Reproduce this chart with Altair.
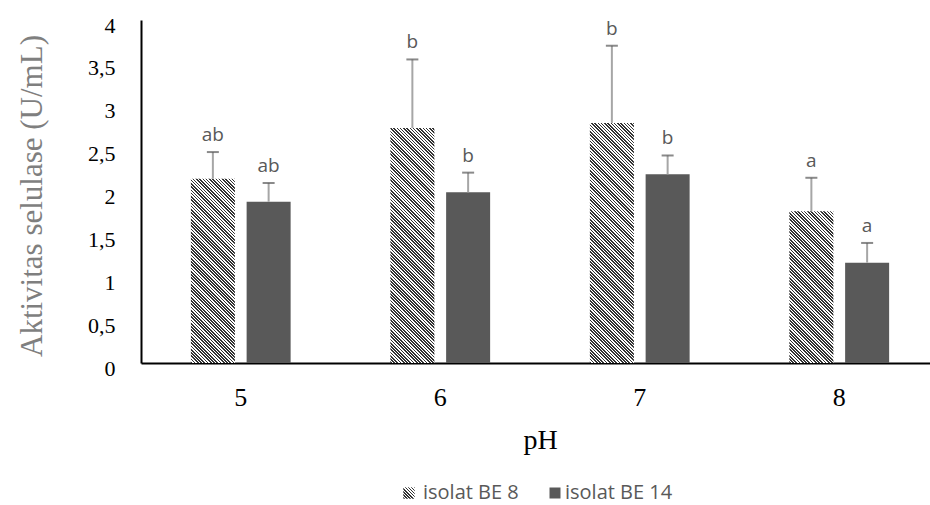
import math
import altair as alt
import pandas as pd

# pH levels and the two isolates
ph_levels = ["5", "6", "7", "8"]
isolates = ["isolat BE 8", "isolat BE 14"]

# cellulase activity (U/mL): means, standard deviations, significance letters
be8_mean = [2.15, 2.74, 2.80, 1.77]
be8_sd = [0.31, 0.80, 0.90, 0.39]
be8_letter = ["ab", "b", "b", "a"]

be14_mean = [1.88, 1.99, 2.20, 1.17]
be14_sd = [0.22, 0.23, 0.22, 0.23]
be14_letter = ["ab", "b", "b", "a"]

rows = []
for p, m, s, l in zip(ph_levels, be8_mean, be8_sd, be8_letter):
    rows.append({"pH": p, "isolat": isolates[0], "mean": m, "sd": s, "top": m + s, "letter": l})
for p, m, s, l in zip(ph_levels, be14_mean, be14_sd, be14_letter):
    rows.append({"pH": p, "isolat": isolates[1], "mean": m, "sd": s, "top": m + s, "letter": l})
df = pd.DataFrame(rows)

PLOT_W, PLOT_H = 789, 343
Y_MAX = 4
BAR_W = 44
SERIF = "Liberation Serif"
SANS = "Open Sans"
SOLID = "#595959"


def hatch(w, h, period=2.3, dark="#333333", light="#ffffff"):
    """Diagonal '\\' stripes as a linear gradient in bounding-box units."""
    alpha = (w + h) / (w * w + h * h)
    span = (w + h) / math.sqrt(2)
    step = period / span
    n = int(math.ceil(span / period))
    stops = []
    for i in range(n):
        t0 = round(min(i * step, 1), 5)
        tm = round(min(i * step + step / 2, 1), 5)
        t1 = round(min(i * step + step, 1), 5)
        stops += [
            alt.GradientStop(offset=t0, color=dark),
            alt.GradientStop(offset=tm, color=dark),
            alt.GradientStop(offset=tm, color=light),
            alt.GradientStop(offset=t1, color=light),
        ]
    return alt.LinearGradient(gradient="linear", stops=stops,
                              x1=0, y1=1, x2=alpha * w, y2=1 - alpha * h)


x_enc = alt.X(
    "pH:N",
    sort=ph_levels,
    scale=alt.Scale(domain=ph_levels, range=[0, 798], paddingInner=0.5, paddingOuter=0.25),
    title="pH",
    axis=alt.Axis(
        labelAngle=0, ticks=False, domainColor="black", domainWidth=2,
        labelFont=SERIF, labelFontSize=26, labelColor="black",
        labelBaseline="alphabetic", labelPadding=42,
        titleFont=SERIF, titleFontSize=28, titleFontWeight="normal", titleColor="black",
        titleBaseline="alphabetic", titleY=85,
    ),
)
xo_enc = alt.XOffset(
    "isolat:N",
    scale=alt.Scale(domain=isolates, paddingInner=0.2108, paddingOuter=0),
)


def y_enc(field):
    return alt.Y(
        f"{field}:Q",
        scale=alt.Scale(domain=[0, Y_MAX], nice=False),
        title="Aktivitas selulase (U/mL)",
        axis=alt.Axis(
            values=[i * 0.5 for i in range(9)],
            labelExpr="replace(format(datum.value, '.1~f'), '.', ',')",
            grid=False, ticks=False, domainColor="black", domainWidth=2,
            labelFont=SERIF, labelFontSize=22, labelColor="black",
            labelPadding=26, labelOffset=5,
            titleFont=SERIF, titleFontSize=31, titleFontWeight="normal", titleColor="#7f7f7f",
            titleAngle=270, titleAlign="center", titleBaseline="middle",
            titleX=-109, titleY=PLOT_H / 2 + 4,
        ),
    )


base = alt.Chart(df)

solid_bars = base.transform_filter(alt.datum.isolat == isolates[1]).mark_bar(color=SOLID).encode(
    x=x_enc, xOffset=xo_enc, y=y_enc("mean")
)

hatched = []
for p, m in zip(ph_levels, be8_mean):
    h = m / Y_MAX * PLOT_H
    hatched.append(
        base.transform_filter((alt.datum.isolat == isolates[0]) & (alt.datum.pH == p))
        .mark_bar(color=hatch(BAR_W, h))
        .encode(x=x_enc, xOffset=xo_enc, y=y_enc("mean"))
    )

err_line = base.mark_rule(color="#a6a6a6", strokeWidth=2).encode(
    x=x_enc, xOffset=xo_enc, y=y_enc("mean"), y2="top:Q"
)
err_cap = base.mark_tick(orient="horizontal", color="#595959", size=12, thickness=2).encode(
    x=x_enc, xOffset=xo_enc, y=y_enc("top")
)
letters = base.mark_text(
    dy=-7, baseline="bottom", font=SANS, fontSize=19, color="#595959"
).encode(x=x_enc, xOffset=xo_enc, y=y_enc("top"), text="letter:N")

# legend drawn below the plot
leg1 = pd.DataFrame({"label": [isolates[0]]})
leg2 = pd.DataFrame({"label": [isolates[1]]})
leg_sym1 = alt.Chart(leg1).mark_square(size=130, color=hatch(11.4, 11.4, period=2.2), opacity=1).encode(
    x=alt.value(268), y=alt.value(473)
)
leg_sym2 = alt.Chart(leg2).mark_square(size=121, color=SOLID, opacity=1).encode(
    x=alt.value(414), y=alt.value(473)
)
leg_txt1 = alt.Chart(leg1).mark_text(align="left", baseline="middle", font=SANS, fontSize=20, color="#595959").encode(
    x=alt.value(282), y=alt.value(473), text="label:N"
)
leg_txt2 = alt.Chart(leg2).mark_text(align="left", baseline="middle", font=SANS, fontSize=20, color="#595959").encode(
    x=alt.value(424), y=alt.value(473), text="label:N"
)

chart = alt.layer(
    solid_bars, *hatched, err_line, err_cap, letters,
    leg_sym1, leg_sym2, leg_txt1, leg_txt2,
).properties(
    width=PLOT_W, height=PLOT_H,
    autosize=alt.AutoSizeParams(type="none"),
    padding={"left": 141, "top": 20, "right": 0, "bottom": 142},
    background="white",
).configure_view(strokeWidth=0)

chart.save("out.html", embed_options={"renderer": "svg", "actions": False})
